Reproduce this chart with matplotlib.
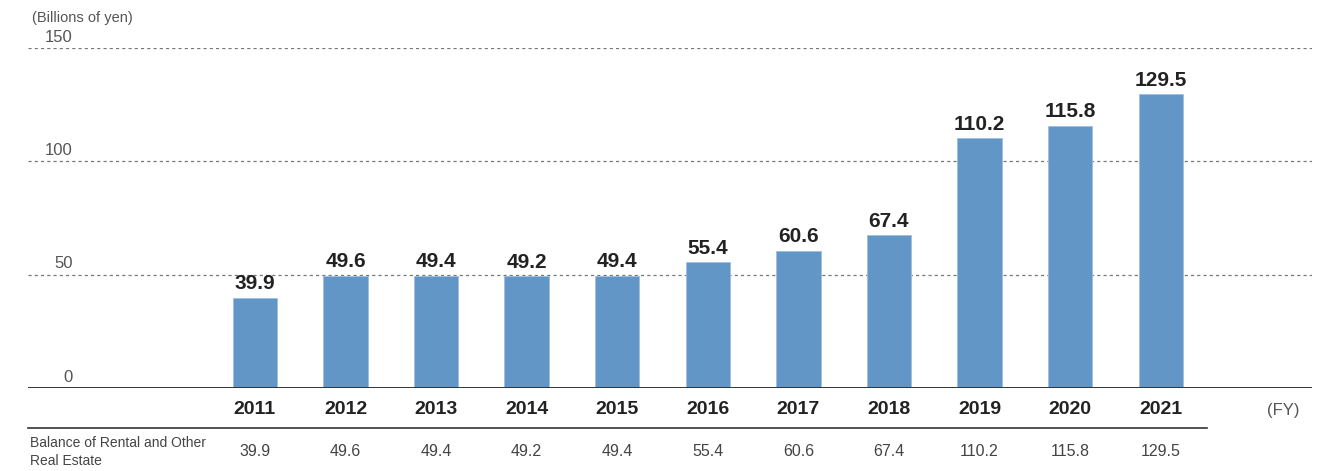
import matplotlib
matplotlib.use("Agg")
import matplotlib.pyplot as plt
import numpy as np
from matplotlib.transforms import blended_transform_factory

plt.rcParams['font.family'] = ['Liberation Sans', 'DejaVu Sans']

years = ['2011', '2012', '2013', '2014', '2015', '2016', '2017', '2018', '2019', '2020', '2021']
balance = [39.9, 49.6, 49.4, 49.2, 49.4, 55.4, 60.6, 67.4, 110.2, 115.8, 129.5]
yticks = [0, 50, 100, 150]
row_label = 'Balance of Rental and Other\nReal Estate'

W, H = 1336, 471
fig = plt.figure(figsize=(W / 100, H / 100), dpi=100)
ax = fig.add_axes([28 / W, 1 - 388 / H, (1312 - 28) / W, (388 - 48) / H])

x = np.arange(len(years))
ax.bar(x, balance, width=0.49, color='#6196c6', edgecolor='#9dbfdf', linewidth=0.6, zorder=3)
for xi, v in zip(x, balance):
    ax.text(xi, v + 2, f'{v:.1f}', ha='center', va='bottom', fontsize=15,
            fontweight='bold', color='#222222')

ax.set_xlim(-2.505, 11.67)
ax.set_ylim(0, 150)
for t in yticks[1:]:
    ax.axhline(t, color='#777777', lw=0.9, ls=(0, (2.5, 2.5)), zorder=1)
ax.axhline(0, color='#333333', lw=1.4, zorder=4)
for s in ax.spines.values():
    s.set_visible(False)
ax.set_xticks([])
ax.set_yticks([])

# y tick labels sit just above the grid lines
ytr = blended_transform_factory(fig.transFigure, ax.transData)
for t in yticks:
    ax.text(73 / W, t + 1.5, str(t), transform=ytr, ha='right', va='bottom',
            fontsize=12, color='#555555')
fig.text(32 / W, 1 - 18 / H, '(Billions of yen)', ha='left', va='center',
         fontsize=10.5, color='#555555')

# year labels and table row
xtr = blended_transform_factory(ax.transData, fig.transFigure)
for xi, y in zip(x, years):
    ax.text(xi, 1 - 410 / H, y, transform=xtr, ha='center', va='center',
            fontsize=14, fontweight='bold', color='#222222')
    ax.text(xi, 1 - 451 / H, f'{balance[xi]:.1f}', transform=xtr, ha='center',
            va='center', fontsize=11.5, color='#444444')
fig.text(1283 / W, 1 - 410 / H, '(FY)', ha='center', va='center', fontsize=12,
         color='#555555')
fig.add_artist(plt.Line2D([28 / W, 1207 / W], [1 - 428 / H, 1 - 428 / H],
                          transform=fig.transFigure, color='#333333', lw=1.2))
fig.text(30 / W, 1 - 452 / H, row_label, ha='left', va='center', fontsize=10,
         color='#444444', linespacing=1.35)

fig.savefig('out.png', dpi=100)
